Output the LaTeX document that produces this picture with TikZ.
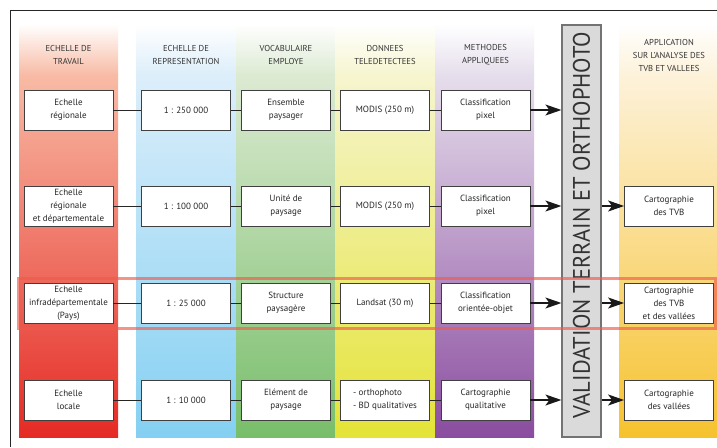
\documentclass[tikz,border=0pt]{standalone}
\usepackage{fontspec}
\setmainfont{PT Sans}
\usetikzlibrary{arrows.meta}
\definecolor{redT}{HTML}{F8BBA5}\definecolor{redB}{HTML}{E52A24}
\definecolor{bluT}{HTML}{DCEEFA}\definecolor{bluB}{HTML}{84D0F2}
\definecolor{grnT}{HTML}{DCEAD2}\definecolor{grnB}{HTML}{78BE6A}
\definecolor{yelT}{HTML}{F6F5CF}\definecolor{yelB}{HTML}{E4E336}
\definecolor{purT}{HTML}{E6DEEC}\definecolor{purB}{HTML}{8A4C9F}
\definecolor{oraT}{HTML}{FDF2DA}\definecolor{oraB}{HTML}{F6C22E}
\definecolor{barfill}{HTML}{DADADA}
\definecolor{hilite}{HTML}{F05A4A}
\newcommand\myband[4]{%
  \shade[top color=white, bottom color=#3] (#1,24) rectangle (#2,75);
  \shade[top color=#3, bottom color=#4] (#1,74.5) rectangle (#2,437);}
\begin{document}
\begin{tikzpicture}[x=1pt,y=-1pt,
  box/.style={draw=black!75, line width=0.8pt, fill=white, minimum width=89pt, minimum height=40pt, inner sep=1pt, align=center, font=\fontsize{9}{13}\selectfont, text=black!85},
  head/.style={align=center, font=\fontsize{8.6}{13}\selectfont, text=black!80},
  link/.style={line width=0.8pt, draw=black!85},
  arr/.style={line width=1.3pt, draw=black!90, -{Stealth[length=16pt,width=11pt,inset=4pt]}},
]
\useasboundingbox (0,0) rectangle (717,447);
\fill[white] (0,0) rectangle (717,447);
% frame
\draw[line width=0.8pt, black!85] (717,10.5) -- (10.5,10.5) -- (10.5,447);
% colour bands
\myband{19}{118}{redT}{redB}
\myband{136}{236}{bluT}{bluB}
\myband{236}{335}{grnT}{grnB}
\myband{335}{435}{yelT}{yelB}
\myband{435}{534}{purT}{purB}
\myband{619}{717}{oraT}{oraB}
% headers
\node[head] (h1) at (68.5,55) {ECHELLE DE\\TRAVAIL};
\node[head] (h2) at (186,55) {ECHELLE DE\\REPRESENTATION};
\node[head] (h3) at (286,55) {VOCABULAIRE\\EMPLOYE};
\node[head] (h4) at (385,55) {DONNEES\\TELEDETECTEES};
\node[head] (h5) at (485.5,55) {METHODES\\APPLIQUEES};
\node[head] (h7) at (669,55) {APPLICATION\\SUR L'ANALYSE DES\\TVB ET VALLEES};
% validation bar
\node[draw=black!55, line width=1.2pt, fill=barfill, minimum width=39pt, minimum height=412pt, inner sep=0pt] (bar) at (581.5,231) {};
\node[rotate=90, inner sep=0pt, text=black!80] (vtext) at (581.5,225) {\resizebox{386pt}{17pt}{\fontsize{20}{20}\selectfont VALIDATION TERRAIN ET ORTHOPHOTO}};
% row 1
\node[box] (a1) at (68.5,110) {Echelle\\régionale};
\node[box] (b1) at (186,110) {1 : 250 000};
\node[box] (c1) at (286,110) {Ensemble\\paysager};
\node[box] (d1) at (385,110) {MODIS (250 m)};
\node[box] (e1) at (485.5,110) {Classification\\pixel};
% row 2
\node[box] (a2) at (68.5,206) {Echelle\\régionale\\et départementale};
\node[box] (b2) at (186,206) {1 : 100 000};
\node[box] (c2) at (286,206) {Unité de\\paysage};
\node[box] (d2) at (385,206) {MODIS (250 m)};
\node[box] (e2) at (485.5,206) {Classification\\pixel};
\node[box] (g2) at (669,206) {Cartographie\\des TVB};
% row 3
\node[box] (a3) at (68.5,303) {Echelle\\infradépartementale\\(Pays)};
\node[box] (b3) at (186,303) {1 : 25 000};
\node[box] (c3) at (286,303) {Structure\\paysagère};
\node[box] (d3) at (385,303) {Landsat (30 m)};
\node[box] (e3) at (485.5,303) {Classification\\orientée-objet};
\node[box] (g3) at (669,303) {Cartographie\\des TVB\\et des vallées};
% row 4
\node[box] (a4) at (68.5,400) {Echelle\\locale};
\node[box] (b4) at (186,400) {1 : 10 000};
\node[box] (c4) at (286,400) {Elément de\\paysage};
\node[box, align=left] (d4) at (385,400) {- orthophoto\\- BD qualitatives};
\node[box] (e4) at (485.5,400) {Cartographie\\qualitative};
\node[box] (g4) at (669,400) {Cartographie\\des vallées};
% links
\foreach \r in {1,2,3,4}{
  \draw[link] (a\r) -- (b\r);
  \draw[link] (b\r) -- (c\r);
  \draw[link] (c\r) -- (d\r);
  \draw[link] (d\r) -- (e\r);
  \draw[arr] (e\r.east) -- (e\r.east -| bar.west);
}
\foreach \r in {2,3,4}{
  \draw[arr] (g\r.west -| bar.east) -- (g\r.west);
}
% highlight of row 3
\draw[line width=3pt, draw=hilite, opacity=0.65] (18.5,278) rectangle (715,328);
\end{tikzpicture}
\end{document}
